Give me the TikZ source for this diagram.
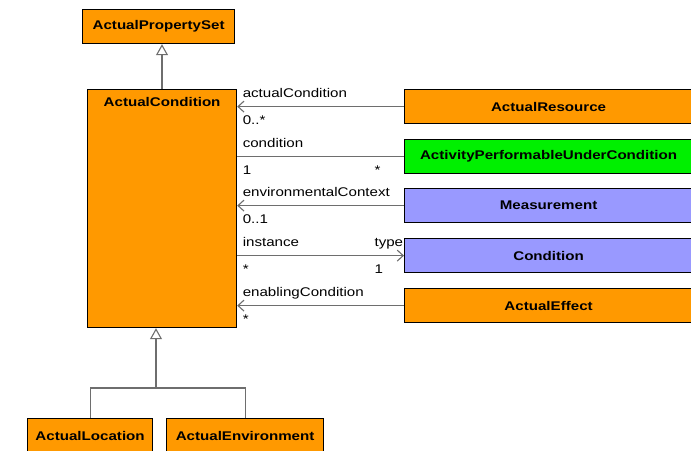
\documentclass[tikz,border=0pt]{standalone}
\usepackage{fontspec}
\setmainfont{Liberation Sans}[FakeStretch=1.2]
\usepackage{tikz}
\usetikzlibrary{arrows.meta, positioning}
\definecolor{umlorange}{HTML}{FF9900}
\definecolor{umlgreen}{HTML}{00F000}
\definecolor{umlblue}{HTML}{9999FF}
\definecolor{umlline}{HTML}{6E6E6E}
\newcommand{\umlsize}{\fontsize{12.6pt}{15pt}\selectfont}
\tikzset{
  cls/.style={rectangle, draw=black, line width=1.2pt, fill=umlorange,
              anchor=north west, font=\umlsize\bfseries,
              minimum height=34pt, inner sep=0pt},
  rcls/.style={cls, minimum width=288pt},
  link/.style={draw=umlline, line width=1.1pt},
  assoc/.style={link, -{Straight Barb[length=6pt, width=11pt]}},
  gen/.style={link, -{Triangle[open, fill=white, length=11pt, width=12pt]}},
  rolea/.style={anchor=base west, inner sep=0pt, font=\umlsize,
                xshift=5pt, yshift=9.5pt},
  roleb/.style={anchor=base west, inner sep=0pt, font=\umlsize,
                xshift=5pt, yshift=-17.5pt},
  rolec/.style={rolea, xshift=-35pt},
  roled/.style={roleb, xshift=-35pt}
}

\begin{document}
\begin{tikzpicture}[x=1pt, y=-1pt]
  \useasboundingbox (0,0) rectangle (691,450);

  %% -- Superclass and main class --
  \node[cls, minimum width=152pt] (aps) at (82,9) {ActualPropertySet};
  \node[cls, minimum width=149pt, minimum height=238pt,
        label={[font=\umlsize\bfseries, anchor=north, yshift=-5pt]north:ActualCondition}]
    (ac) at (87,89) {};

  %% -- Associated classes --
  \node[rcls]                  (ares)  at (404,89)  {ActualResource};
  \node[rcls, fill=umlgreen]   (apuc)  at (404,139) {ActivityPerformableUnderCondition};
  \node[rcls, fill=umlblue]    (meas)  at (404,188) {Measurement};
  \node[rcls, fill=umlblue]    (cond)  at (404,238) {Condition};
  \node[rcls]                  (aeff)  at (404,288) {ActualEffect};

  %% -- Subclasses --
  \node[cls, minimum width=125pt] (aloc) at (27,418)  {ActualLocation};
  \node[cls, minimum width=157pt] (aenv) at (166,418) {ActualEnvironment};

  %% -- Generalizations --
  \draw[gen] (ac.north -| 162,0) -- (aps.south -| 162,0);
  \coordinate (join) at (156,388);
  \draw[link] (aloc.north) |- (join) -| (aenv.north);
  \draw[gen] (join) -- (join |- ac.south);

  %% -- Associations --
  \draw[assoc] (ares.west) -- (ares.west -| ac.east)
    node[at end, rolea] {actualCondition}
    node[at end, roleb] {0..*};
  \draw[link] (apuc.west -| ac.east) -- (apuc.west)
    node[at start, rolea] {condition}
    node[at start, roleb] {1}
    node[at end, roled] {*};
  \draw[assoc] (meas.west) -- (meas.west -| ac.east)
    node[at end, rolea] {environmentalContext}
    node[at end, roleb] {0..1};
  \draw[assoc] (cond.west -| ac.east) -- (cond.west)
    node[at start, rolea] {instance}
    node[at start, roleb] {*}
    node[at end, rolec] {type}
    node[at end, roled] {1};
  \draw[assoc] (aeff.west) -- (aeff.west -| ac.east)
    node[at end, rolea] {enablingCondition}
    node[at end, roleb] {*};
\end{tikzpicture}
\end{document}
